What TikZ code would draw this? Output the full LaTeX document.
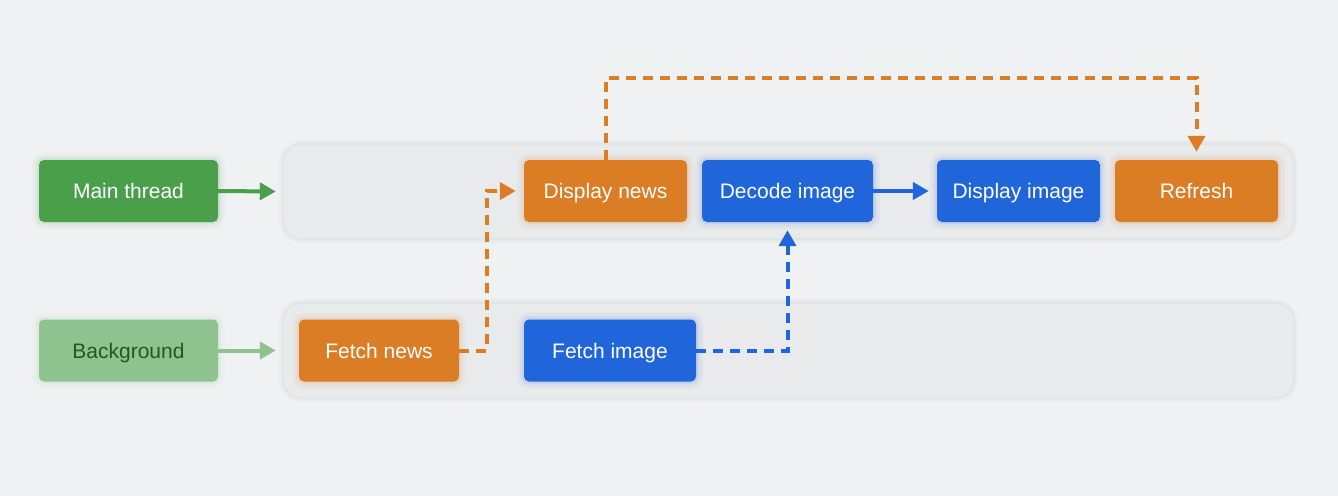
\documentclass[tikz,border=0pt]{standalone}
\usepackage{fontspec}
\setmainfont{Liberation Sans}
\usetikzlibrary{arrows.meta}
\definecolor{bgc}{HTML}{F0F1F3}
\definecolor{lanec}{HTML}{E8EAEB}
\definecolor{orng}{HTML}{DA7D25}
\definecolor{blu}{HTML}{2066DA}
\definecolor{grn}{HTML}{4A9F4B}
\definecolor{lgrn}{HTML}{8EC28E}
\definecolor{dgrn}{HTML}{1F5A1F}
\tikzset{
  box/.style={rounded corners=5pt, minimum height=62pt, inner sep=0pt,
    text=white, font=\fontsize{21}{24}\selectfont, text height=15pt, text depth=0pt,
    preaction={draw=#1, line width=14pt, draw opacity=.04, rounded corners=10pt},
    preaction={draw=#1, line width=8pt, draw opacity=.06, rounded corners=8pt},
    preaction={draw=#1, line width=4pt, draw opacity=.08, rounded corners=6pt},
    fill=#1},
  lane/.style={rounded corners=18pt, fill=lanec, minimum width=1009pt, minimum height=93pt,
    preaction={draw=black, line width=10pt, draw opacity=.02, rounded corners=22pt},
    preaction={draw=black, line width=5pt, draw opacity=.03, rounded corners=20pt}},
  tip/.style={-{Triangle[length=16pt,width=17pt]}},
  conn/.style={tip, line width=4pt, #1},
  dconn/.style={tip, line width=4pt, dash pattern=on 10pt off 7pt, #1},
}
\begin{document}
\begin{tikzpicture}[x=1pt,y=-1pt]
\useasboundingbox[fill=bgc] (0,0) rectangle (1338,496);
\node[lane] (laneA) at (788.5,191.5) {};
\node[lane] (laneB) at (788.5,350.5) {};
\node[box=grn, minimum width=179pt] (main) at (128.5,191) {Main thread};
\node[box=lgrn, minimum width=179pt, text=dgrn] (bg) at (128.5,350.5) {Background};
\node[box=orng, minimum width=163pt] (dnews) at (605.5,191) {Display news};
\node[box=blu, minimum width=171pt] (decode) at (787.5,191) {Decode image};
\node[box=blu, minimum width=163pt] (dimage) at (1018.5,191) {Display image};
\node[box=orng, minimum width=163pt] (refresh) at (1196.5,191) {Refresh};
\node[box=orng, minimum width=160pt] (fnews) at (379,350.5) {Fetch news};
\node[box=blu, minimum width=172pt] (fimage) at (610,350.5) {Fetch image};
\coordinate (top) at (0,78);
\coordinate (kA) at (487,0);
\draw[conn=grn] (main.east) -- ([xshift=-8pt]laneA.west);
\draw[conn=lgrn] (bg.east) -- ([xshift=-8pt]laneB.west);
\draw[conn=blu] (decode.east) -- ([xshift=-8pt]dimage.west);
\draw[dconn=orng] (fnews.east) -| (kA |- dnews.west) -- ([xshift=-8pt]dnews.west);
\draw[dconn=orng] (dnews.north) -- (dnews.north |- top) -| ([yshift=8pt]refresh.north);
\draw[dconn=blu] (fimage.east) -| ([yshift=-8pt]decode.south);
\end{tikzpicture}
\end{document}
